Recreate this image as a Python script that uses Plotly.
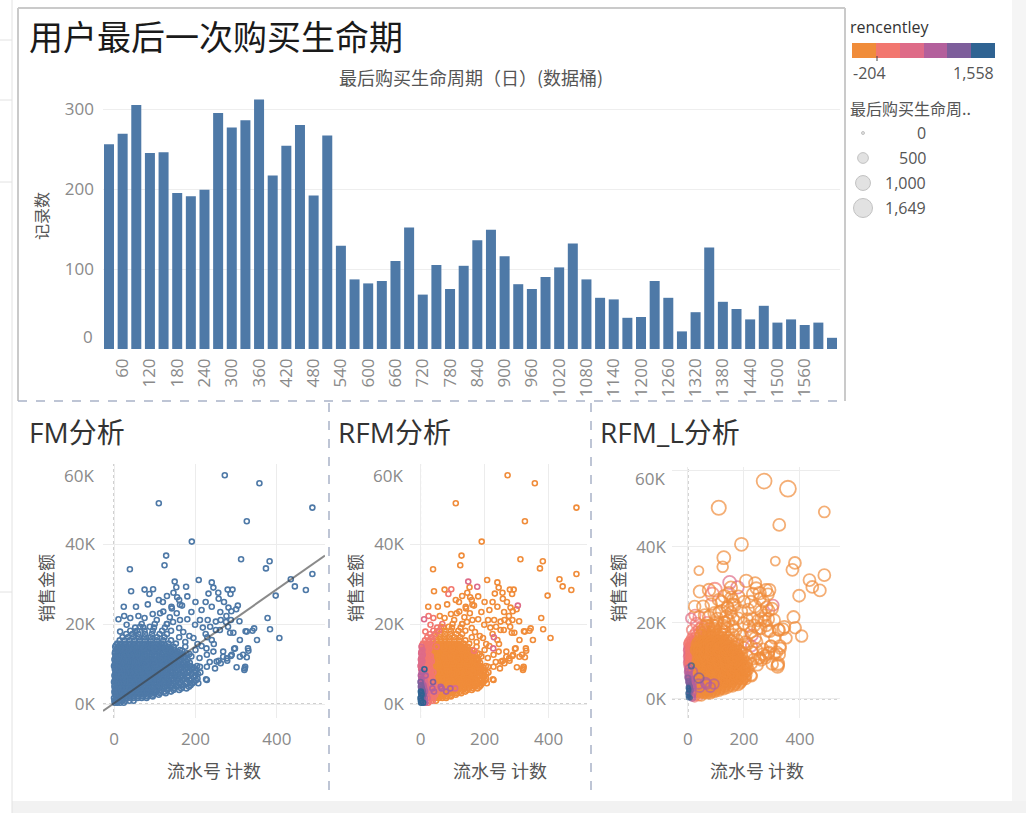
import plotly.graph_objects as go

# ---------------- bar chart data ----------------
bin_start = [30, 60, 90, 120, 150, 180, 210, 240, 270, 300, 330, 360, 390, 420, 450, 480, 510, 540,
             570, 600, 630, 660, 690, 720, 750, 780, 810, 840, 870, 900, 930, 960, 990, 1020, 1050, 1080,
             1110, 1140, 1170, 1200, 1230, 1260, 1290, 1320, 1350, 1380, 1410, 1440, 1470, 1500, 1530, 1560,
             1590, 1620]
bin_count = [256, 269, 305, 245, 246, 195, 191, 199, 295, 277, 286, 312, 217, 254, 280, 192, 267, 129,
             87, 82, 85, 110, 152, 68, 105, 75, 104, 136, 149, 116, 81, 75, 90, 102, 132, 87,
             64, 62, 39, 40, 85, 64, 22, 46, 127, 59, 50, 37, 54, 33, 37, 30, 33, 14]
bar_tick_vals = [60, 120, 180, 240, 300, 360, 420, 480, 540, 600, 660, 720, 780, 840, 900, 960, 1020,
                 1080, 1140, 1200, 1260, 1320, 1380, 1440, 1500, 1560]
bar_tick_text = ["60", "120", "180", "240", "300", "360", "420", "480", "540", "600", "660", "720", "780",
                 "840", "900", "960", "1020", "1080", "1140", "1200", "1260", "1320", "1380", "1440",
                 "1500", "1560"]
bar_y_ticks = [0, 100, 200, 300]
bar_y_text = ["", "100", "200", "300"]   # "0" is drawn nudged up inside the pane, as Tableau does

# ---------------- scatter data (count, sales, recency, lifetime) ----------------
out_cnt = [272, 357, 110, 487, 326, 191, 128, 312, 382, 124, 39, 373, 487, 434, 444, 471, 397]
out_amt = [57200, 55200, 50200, 49100, 45700, 40600, 37100, 36200, 35700, 34700, 33700, 33900, 32500,
           31200, 29400, 28500, 27100]
out_rec = [-40, -120, 20, -60, -10, 30, 10, -30, -80, 40, 60, -20, -90, -50, 0, -70, 10]
out_life = [1000, 1150, 900, 520, 630, 750, 750, 340, 630, 500, 340, 630, 630, 630, 630, 630, 630]

mid_cnt = [208, 240, 244, 232, 256, 257, 279, 291, 286, 304,
           281, 240, 149, 153, 177, 146, 155, 180, 160, 167,
           141, 75, 96, 87, 42, 83, 24, 54, 11, 308,
           377, 383, 406, 351, 340, 323, 330, 309, 287, 295,
           320, 322, 278, 268, 262, 257, 228, 226, 207, 187,
           250, 262, 275, 230, 261, 300, 288, 276, 31, 15,
           52, 64, 88, 113, 121, 142, 137, 162, 154, 180,
           199, 162, 211, 218, 236, 250, 260, 280, 285, 293,
           326, 344, 309, 287, 268, 244, 252, 228, 248, 211,
           228, 297, 317, 326, 289, 277, 301, 321, 329, 229,
           227, 50, 167]
mid_amt_k = [31.0, 30.4, 29.1, 27.6, 27.8, 26.3, 28.6, 28.6, 27.5, 24.6,
             24.1, 24.3, 30.6, 29.2, 29.3, 27.8, 26.7, 26.9, 26.0, 24.6,
             24.3, 28.6, 28.7, 27.5, 28.2, 24.9, 24.3, 24.3, 21.2, 20.7,
             21.5, 18.7, 16.5, 16.0, 18.3, 18.2, 13.3, 11.8, 12.0, 13.8,
             8.5, 9.3, 10.8, 11.8, 10.2, 10.8, 9.3, 6.2, 5.2, 5.2,
             18.5, 21.0, 20.5, 21.0, 23.0, 23.7, 23.2, 22.0, 19.8, 18.1,
             18.1, 19.3, 19.3, 22.7, 23.1, 23.9, 21.7, 24.8, 22.7, 21.2,
             19.8, 21.0, 21.0, 19.1, 19.3, 20.6, 18.5, 19.3, 17.8, 17.8,
             18.1, 18.9, 16.0, 21.0, 13.1, 13.1, 10.6, 12.3, 8.9, 9.3,
             6.0, 13.9, 12.3, 11.7, 12.3, 11.4, 9.2, 8.9, 13.9, 16.7,
             13.9, 14.3, 13.3]
mid_rec = [-10, 20, 0, 30, -20, 10, 0, -30, 20, 420,
           40, 10, 460, 30, 420, 20, 0, 50, 30, 60,
           10, 40, 300, 320, 60, 30, 50, 70, 480, 10,
           0, 20, 40, 10, 30, 0, 20, 30, 50, 10,
           40, 20, 60, 30, 10, 40, 70, 50, 80, 60,
           20, 0, 30, 10, 40, 20, 50, 10, 100, 350,
           60, 40, 20, 30, 10, 50, 20, 40, 60, 10,
           30, 20, 0, 40, 20, 10, 30, 0, 50, 20,
           10, 30, 40, 20, 30, 50, 20, 40, 60, 30,
           70, 20, 10, 40, 30, 20, 50, 60, 10, 400,
           420, 350, 250]
mid_life = [700, 650, 600, 650, 700, 600, 650, 650, 600, 550,
            600, 650, 750, 700, 700, 650, 600, 650, 600, 650,
            600, 700, 850, 800, 650, 600, 600, 650, 450, 600,
            650, 600, 600, 550, 600, 600, 550, 550, 600, 600,
            700, 650, 550, 600, 550, 550, 500, 500, 450, 500,
            600, 650, 600, 650, 600, 650, 600, 600, 600, 500,
            600, 650, 650, 700, 650, 650, 600, 650, 600, 600,
            650, 600, 600, 600, 650, 600, 600, 600, 550, 600,
            600, 650, 550, 600, 550, 600, 550, 600, 550, 500,
            500, 600, 550, 600, 550, 550, 600, 650, 600, 600,
            550, 500, 900]

ext_cnt = [170, 185, 195, 205, 215, 225, 240, 200, 185, 210,
           235, 245, 175, 160, 145, 130, 105, 95, 75, 60,
           40, 25, 120, 130, 110, 200, 215, 190, 225, 270]
ext_amt_k = [18, 17, 16.5, 15, 14.5, 17.5, 16, 13.5, 12.5, 11.5,
             10.5, 15, 15.5, 19, 20.5, 20, 21, 22.5, 21.5, 22,
             21.5, 22, 25.5, 27, 26, 25.5, 23.5, 23, 25.5, 25.5]
ext_rec = [30, 10, 40, 20, 30, 0, 50, 20, 40, 30,
           10, 40, 20, 0, 30, 10, 40, 20, 60, 80,
           90, 150, 20, 40, 30, 10, 30, 20, 40, 20]
ext_life = [600, 600, 600, 550, 550, 600, 600, 550, 550, 550,
            500, 600, 600, 650, 650, 650, 700, 700, 650, 650,
            600, 550, 650, 700, 650, 650, 600, 650, 650, 600]

# dense core, read row by row (sales level -> counts)
core_row_amt = [300, 800, 1500, 2300, 3100, 3900, 4700, 5500, 6300, 7100, 7900, 8700, 9500, 10300,
                11100, 11900, 12700, 13500, 14300, 15100, 15900, 16700, 17500, 18300, 19100, 20000,
                1900, 2700, 3500, 4300, 5100, 5900, 6700, 7500, 8300, 9100, 9900, 10700, 11500, 12300,
                13100, 13900, 14700]
core_row_cnt = [
    [2, 8, 15, 24],
    [1, 5, 12, 20, 28, 38, 48],
    [0, 6, 13, 22, 31, 40, 48, 58, 68, 80],
    [3, 9, 17, 26, 35, 45, 55, 64, 72, 84, 96, 110],
    [1, 7, 14, 23, 32, 42, 51, 61, 70, 80, 90, 100, 112, 125, 140],
    [4, 11, 19, 28, 37, 47, 57, 66, 76, 86, 93, 108, 120, 133, 148, 165, 178],
    [2, 9, 16, 25, 34, 44, 53, 63, 73, 83, 93, 104, 115, 127, 140, 154, 170, 188],
    [0, 6, 14, 22, 31, 39, 50, 60, 70, 80, 90, 101, 112, 124, 136, 150, 163, 178, 196],
    [3, 11, 19, 28, 37, 47, 57, 67, 77, 87, 98, 109, 120, 132, 145, 158, 172, 190, 205],
    [1, 8, 16, 25, 34, 44, 54, 64, 74, 84, 95, 106, 117, 129, 141, 154, 168, 183, 200],
    [4, 12, 21, 30, 40, 50, 60, 70, 81, 92, 103, 114, 126, 138, 151, 165, 180, 197, 212],
    [2, 12, 19, 27, 37, 47, 57, 67, 78, 89, 100, 111, 123, 135, 148, 162, 176, 192],
    [0, 6, 14, 23, 33, 43, 53, 64, 75, 86, 97, 108, 120, 132, 145, 158, 173, 188, 204],
    [3, 11, 20, 30, 40, 50, 61, 72, 83, 94, 105, 117, 129, 142, 155, 170, 186],
    [1, 8, 17, 26, 36, 46, 57, 68, 79, 90, 102, 114, 126, 139, 152, 166, 181],
    [4, 13, 22, 32, 42, 53, 64, 75, 87, 99, 111, 124, 137, 150, 165, 190],
    [2, 10, 19, 29, 39, 50, 61, 72, 84, 96, 109, 122, 135, 149, 163, 178],
    [6, 15, 25, 35, 46, 57, 68, 80, 93, 106, 119, 133, 147, 162],
    [3, 12, 22, 32, 43, 54, 66, 78, 91, 104, 118, 132, 147, 175],
    [8, 18, 29, 40, 52, 64, 77, 90, 104, 118, 134, 152],
    [14, 26, 38, 50, 63, 76, 90, 105, 121, 140],
    [21, 34, 47, 61, 75, 90, 106, 124, 160],
    [30, 45, 60, 76, 93, 112, 130],
    [40, 57, 75, 95, 118, 140],
    [52, 72, 98, 125],
    [68, 100, 130],
    [4, 11, 19, 28, 38, 48, 58, 70, 82, 95],
    [2, 8, 15, 24, 33, 43, 53, 63, 74, 86, 99, 113, 127],
    [5, 12, 20, 29, 39, 49, 59, 69, 80, 91, 103, 116, 131, 146, 160],
    [1, 8, 15, 24, 33, 43, 53, 63, 74, 85, 97, 110, 123, 137, 152, 168, 184],
    [5, 12, 20, 29, 39, 49, 58, 68, 78, 88, 99, 110, 122, 134, 147, 160, 175, 192],
    [2, 9, 17, 26, 35, 45, 55, 65, 75, 85, 96, 107, 118, 130, 142, 155, 168, 185, 201],
    [6, 14, 22, 31, 40, 50, 60, 71, 81, 92, 103, 114, 126, 138, 151, 165, 180, 197],
    [3, 11, 19, 28, 38, 48, 58, 68, 78, 88, 99, 110, 122, 134, 147, 160, 175, 190, 206],
    [7, 15, 24, 33, 43, 53, 63, 73, 84, 95, 106, 117, 129, 142, 155, 169, 184, 200],
    [4, 11, 20, 30, 40, 50, 60, 70, 81, 92, 103, 114, 126, 139, 152, 166, 181, 196],
    [2, 9, 17, 26, 36, 46, 57, 68, 79, 90, 101, 113, 125, 138, 151, 165, 180],
    [6, 15, 25, 35, 45, 55, 66, 77, 88, 99, 111, 123, 136, 149, 162, 177],
    [3, 12, 21, 31, 41, 51, 62, 73, 84, 96, 108, 120, 133, 146, 159, 174],
    [7, 16, 26, 36, 46, 57, 68, 79, 91, 103, 116, 129, 142, 156, 170],
    [3, 11, 20, 30, 41, 52, 63, 74, 86, 99, 112, 126, 140, 155],
    [8, 18, 28, 39, 50, 61, 73, 85, 98, 111, 125, 140],
    [5, 15, 26, 37, 48, 59, 71, 84, 97, 111, 126],
]
core_row_rec = [
    [1400, 1300, 900, 300],
    [1500, 1100, 700, 350, 200, 120, 60],
    [1350, 1200, 800, 500, 250, 150, 80, 40, 20, 0],
    [1450, 1000, 600, 300, 180, 100, 60, 30, 0, -20, 10, -40],
    [1300, 1100, 850, 400, 200, 750, 120, 60, 20, 800, 0, 30, -30, 10, -60],
    [1250, 950, 500, 280, 900, 150, 90, 850, 40, 20, 750, 600, -10, 30, -50, 0, -80],
    [1100, 700, 450, 250, 160, 100, 60, 30, 10, -10, 20, 0, -30, 10, -60, -20, -90, -40],
    [1000, 600, 420, 260, 150, 1150, 70, 40, 10, 0, -20, 10, -30, 0, -50, -10, -70, -40, -100],
    [900, 500, 300, 200, 120, 80, 50, 20, 0, -10, 10, -30, 0, -50, -20, -60, -80, -40, -110],
    [800, 450, 750, 180, 110, 70, 40, 10, -10, 0, -20, 10, -40, -10, -60, -30, -80, -50, -100],
    [700, 400, 260, 150, 90, 60, 30, 0, -20, 10, -30, 0, -50, -20, -70, -40, -90, -60, -120],
    [500, 1300, 240, 140, 80, 50, 20, 0, -20, 10, -40, -10, -60, -30, -80, -50, -100, -70],
    [600, 350, 220, 130, 80, 40, 10, -10, 0, -30, -10, -50, -20, -70, -40, -90, -60, -110, -80],
    [550, 320, 200, 120, 70, 30, 0, -20, 10, -40, -10, -60, -30, -80, -50, -100, -70],
    [500, 300, 180, 100, 60, 20, -10, 0, -30, -10, -50, -20, -70, -40, -90, -60, -110],
    [450, 280, 160, 90, 50, 10, -20, 0, -40, -10, -60, -30, -80, -50, -100, -70],
    [420, 260, 150, 80, 40, 0, -30, -10, -50, -20, -70, -40, -90, -60, -110, -80],
    [500, 240, 140, 70, 30, -10, -30, -20, -60, -30, -80, -50, -100, -70],
    [550, 220, 130, 60, 20, -20, 0, -40, -10, -60, -30, -80, -50, -90],
    [300, 200, 110, 50, 10, -30, -10, -50, -20, -70, -40, -90],
    [280, 180, 100, 40, 0, -20, -40, -10, -60, -30],
    [250, 150, 80, 30, -10, -30, -50, -20, -70],
    [200, 120, 60, 20, -20, -40, -60],
    [180, 100, 40, 0, -30, -50],
    [150, 60, 10, -30],
    [120, 30, -20],
    [1200, 650, 320, 160, 90, 40, 10, -20, 0, -40],
    [1350, 900, 420, 220, 120, 70, 30, 0, -20, 10, -40, -10, -60],
    [1150, 700, 350, 180, 100, 60, 20, 0, -30, 10, -20, -50, 0, -70, -30],
    [1200, 800, 380, 220, 130, 70, 30, 880, 0, -20, 10, -40, -10, -60, -30, -80, -50],
    [950, 550, 300, 170, 100, 50, 20, 0, -30, 10, -20, -50, 0, -60, -30, -80, -40, -90],
    [850, 480, 290, 160, 90, 50, 20, -10, 0, -30, 10, -40, -10, -60, -20, -70, -40, -90, -60],
    [520, 320, 190, 110, 60, 30, 0, -20, 10, -30, 0, -50, -20, -70, -40, -80, -60, -100],
    [600, 380, 230, 130, 80, 40, 10, -10, 0, -30, 10, -40, -10, -60, -30, -80, -50, -90, -70],
    [450, 270, 160, 100, 60, 20, 0, -20, 10, -30, 0, -50, -20, -70, -40, -90, -60, -100],
    [520, 330, 200, 120, 70, 30, 0, -20, 10, -40, -10, -60, -30, -80, -50, -90, -70, -110],
    [560, 340, 210, 120, 70, 30, 0, -20, 10, -40, -10, -60, -30, -80, -50, -100, -70],
    [480, 290, 170, 100, 50, 10, -20, 0, -40, -10, -60, -30, -80, -50, -100, -70],
    [520, 300, 170, 90, 40, 10, -20, 0, -40, -10, -60, -30, -80, -50, -100, -70],
    [430, 250, 140, 70, 30, -10, -30, -10, -50, -20, -70, -40, -90, -60, -100],
    [480, 260, 140, 70, 30, -10, -30, -20, -60, -30, -80, -50, -100, -70],
    [330, 200, 110, 50, 10, -20, 0, -40, -10, -60, -30, -80],
    [300, 180, 100, 40, 0, -30, -10, -50, -20, -70, -40],
]
core_row_life = [
    [20, 30, 150, 250],
    [15, 40, 200, 250, 300, 350, 400],
    [25, 50, 300, 250, 300, 350, 400, 450, 500, 500],
    [20, 80, 250, 300, 350, 400, 450, 450, 500, 550, 550, 600],
    [20, 60, 300, 300, 350, 400, 450, 500, 500, 400, 550, 550, 600, 600, 650],
    [30, 150, 300, 300, 400, 450, 500, 400, 500, 550, 400, 450, 600, 600, 650, 650, 700],
    [60, 250, 300, 350, 400, 450, 500, 500, 550, 550, 600, 600, 650, 650, 650, 700, 700, 700],
    [80, 250, 300, 350, 400, 400, 500, 500, 550, 550, 600, 600, 650, 650, 650, 700, 700, 700, 700],
    [150, 300, 350, 400, 450, 500, 500, 550, 550, 600, 600, 650, 650, 650, 700, 700, 700, 700, 700],
    [200, 300, 400, 400, 450, 500, 500, 550, 600, 600, 600, 650, 650, 650, 700, 700, 700, 750, 700],
    [250, 350, 400, 450, 500, 500, 550, 550, 600, 600, 650, 650, 650, 700, 700, 700, 750, 750, 700],
    [300, 100, 400, 450, 500, 550, 550, 600, 600, 650, 650, 650, 700, 700, 700, 750, 750, 750],
    [300, 350, 400, 450, 500, 550, 550, 600, 600, 650, 650, 650, 700, 700, 700, 750, 750, 750, 700],
    [300, 400, 450, 500, 500, 550, 600, 600, 650, 650, 650, 700, 700, 700, 750, 750, 750],
    [350, 400, 450, 500, 550, 550, 600, 600, 650, 650, 700, 700, 700, 750, 750, 750, 750],
    [350, 400, 450, 500, 550, 600, 600, 650, 650, 700, 700, 700, 750, 750, 750, 700],
    [400, 450, 500, 500, 550, 600, 600, 650, 650, 700, 700, 750, 750, 750, 750, 750],
    [400, 450, 500, 550, 600, 600, 650, 650, 700, 700, 750, 750, 750, 750],
    [400, 450, 500, 550, 600, 650, 650, 700, 700, 700, 750, 750, 750, 700],
    [450, 500, 550, 600, 600, 650, 700, 700, 750, 750, 750, 750],
    [450, 550, 600, 600, 650, 700, 700, 750, 750, 750],
    [500, 550, 600, 650, 700, 700, 750, 750, 750],
    [550, 600, 650, 700, 700, 750, 750],
    [550, 600, 650, 700, 750, 750],
    [600, 650, 700, 750],
    [600, 700, 700],
    [40, 250, 280, 320, 380, 420, 450, 480, 500, 520],
    [30, 120, 280, 320, 360, 420, 460, 480, 520, 540, 560, 600, 620],
    [60, 260, 300, 350, 400, 450, 480, 500, 540, 560, 580, 600, 620, 640, 660],
    [40, 220, 300, 350, 400, 450, 480, 400, 520, 550, 580, 600, 620, 640, 660, 680, 700],
    [120, 280, 320, 380, 420, 470, 500, 520, 550, 580, 600, 620, 640, 660, 680, 700, 700, 700],
    [180, 300, 350, 400, 450, 500, 500, 550, 550, 600, 600, 650, 650, 650, 700, 700, 700, 700, 700],
    [280, 350, 400, 450, 500, 500, 550, 550, 600, 600, 650, 650, 650, 700, 700, 700, 750, 700],
    [250, 350, 400, 450, 500, 500, 550, 550, 600, 600, 650, 650, 650, 700, 700, 700, 750, 750, 700],
    [320, 400, 450, 480, 500, 550, 550, 600, 600, 650, 650, 650, 700, 700, 700, 750, 750, 750],
    [300, 380, 430, 480, 500, 550, 550, 600, 600, 650, 650, 650, 700, 700, 700, 750, 750, 750],
    [300, 380, 430, 480, 520, 550, 580, 600, 630, 650, 660, 680, 700, 720, 740, 750, 750],
    [330, 420, 460, 500, 530, 560, 600, 620, 650, 670, 690, 700, 720, 740, 750, 750],
    [350, 420, 470, 510, 550, 580, 610, 640, 660, 680, 700, 720, 740, 750, 750, 750],
    [380, 450, 500, 540, 580, 600, 630, 650, 680, 700, 720, 740, 750, 750, 750],
    [400, 450, 500, 550, 600, 620, 650, 670, 700, 720, 740, 750, 750, 750],
    [420, 480, 530, 570, 600, 640, 660, 690, 710, 730, 750, 750],
    [440, 500, 550, 590, 620, 660, 690, 710, 730, 750, 750],
]

trend_cnt = [-27, 518]
trend_amt = [-1755, 37100]

rec_min, rec_max = -204, 1558
size_legend_vals = [0, 500, 1000, 1649]
size_legend_text = ["0", "500", "1,000", "1,649"]
life_max = 1649
palette = ["#f08c3a", "#f2776f", "#de6b88", "#b3609c", "#7d5e9b", "#2f6392"]
sc_y_ticks = [0, 20000, 40000, 60000]
sc_y_text = ["0K", "20K", "40K", ""]      # top label drawn nudged inside the pane
sc_x_ticks = [0, 200, 400]

# ---------------- assemble scatter points ----------------
pts = []
for c, a, r, l in zip(out_cnt, out_amt, out_rec, out_life):
    pts.append((c, a, r, l))
for c, a, r, l in zip(mid_cnt, mid_amt_k, mid_rec, mid_life):
    pts.append((c, a * 1000, r, l))
for c, a, r, l in zip(ext_cnt, ext_amt_k, ext_rec, ext_life):
    pts.append((c, a * 1000, r, l))
for amt, cs, rs, ls in zip(core_row_amt, core_row_cnt, core_row_rec, core_row_life):
    for c, r, l in zip(cs, rs, ls):
        pts.append((c, amt, r, l))

# RFM: recency ascending (older customers on top)
pts_a = sorted(pts, key=lambda p: p[2])
# RFM_L: salmon/pink first, orange over them, purple/blue on top
pts_l = sorted(pts, key=lambda p: (p[2] >= 677, p[2] if p[2] >= 677 else -p[2]))


def size_px(v):
    return (9 + (19 ** 2 - 9) * v / life_max) ** 0.5


stepped = []
n = len(palette)
for i, c in enumerate(palette):
    stepped.append([i / n, c])
    stepped.append([(i + 1) / n, c])

# ---------------- layout helpers ----------------
W, H = 1026, 813


def px(x):
    return x / W


def py(y):
    return 1 - y / H


TICK = dict(family="Open Sans, Noto Sans CJK SC", size=17, color="#8a8a8a")
CJK = "Noto Sans CJK SC"
MIX = "Open Sans, Noto Sans CJK SC"

fig = go.Figure()

fig.add_trace(go.Bar(x=bin_start, y=bin_count, width=22, marker=dict(color="#4e79a7", line=dict(width=0)),
                     xaxis="x", yaxis="y"))

fig.add_trace(go.Scatter(x=[p[0] for p in pts_a], y=[p[1] for p in pts_a], mode="markers",
                         xaxis="x2", yaxis="y2",
                         marker=dict(symbol="circle-open", size=5, color="#4e79a7", line=dict(width=1.6))))
fig.add_trace(go.Scatter(x=trend_cnt, y=trend_amt, mode="lines", xaxis="x2", yaxis="y2",
                         line=dict(color="rgba(60,60,60,0.6)", width=2)))

fig.add_trace(go.Scatter(x=[p[0] for p in pts_a], y=[p[1] for p in pts_a], mode="markers",
                         xaxis="x3", yaxis="y3",
                         marker=dict(symbol="circle-open", size=5, color=[p[2] for p in pts_a],
                                     colorscale=stepped, cmin=rec_min, cmax=rec_max, showscale=False,
                                     line=dict(width=1.6))))

fig.add_trace(go.Scatter(x=[p[0] for p in pts_l], y=[p[1] for p in pts_l], mode="markers",
                         xaxis="x4", yaxis="y4",
                         marker=dict(symbol="circle-open", size=[size_px(p[3]) for p in pts_l],
                                     color=[p[2] for p in pts_l], colorscale=stepped, cmin=rec_min,
                                     cmax=rec_max, showscale=False, line=dict(width=1.8))))

# size legend
fig.add_trace(go.Scatter(x=[0.5] * len(size_legend_vals), y=list(range(len(size_legend_vals))),
                         mode="markers", xaxis="x5", yaxis="y5",
                         marker=dict(symbol="circle", size=[size_px(v) for v in size_legend_vals],
                                     color="#d6d6d6", line=dict(color="#a9a9a9", width=1))))
# colour legend
fig.add_trace(go.Heatmap(z=[list(range(n))], x=list(range(n)), y=[0], xaxis="x6", yaxis="y6",
                         colorscale=stepped, zmin=-0.5, zmax=n - 0.5, showscale=False))

common_sc_x = dict(showgrid=True, gridcolor="#ececec", zeroline=False, tickfont=TICK,
                   tickvals=sc_x_ticks, ticks="", ticklabelstandoff=9, showline=False)
sc_yticks = dict(tickvals=sc_y_ticks, ticktext=sc_y_text, tickfont=TICK, showgrid=True,
                 gridcolor="#ececec", zeroline=False, ticks="")

fig.update_layout(
    width=W, height=H, margin=dict(l=0, r=0, t=0, b=0, autoexpand=False),
    paper_bgcolor="white", plot_bgcolor="rgba(0,0,0,0)", showlegend=False,
    xaxis=dict(domain=[px(103), px(840)], range=[16.8, 1637.6], tickvals=bar_tick_vals,
               ticktext=bar_tick_text, tickangle=-90, tickfont=TICK, showgrid=False, zeroline=False,
               ticks="", ticklabelstandoff=5),
    yaxis=dict(domain=[py(349), py(90)], range=[0, 323.75], tickvals=bar_y_ticks, ticktext=bar_y_text,
               tickfont=TICK, showgrid=True, gridcolor="#eeeeee", zeroline=False, ticks="",
               ticklabelstandoff=8),
    xaxis2=dict(domain=[px(103), px(325)], range=[-27, 518], anchor="y2", **common_sc_x),
    yaxis2=dict(domain=[py(718), py(464)], range=[-3500, 60000], anchor="x2", ticklabelstandoff=7,
                **sc_yticks),
    xaxis3=dict(domain=[px(410), px(587)], range=[-33, 520], anchor="y3", **common_sc_x),
    yaxis3=dict(domain=[py(718), py(464)], range=[-3500, 60000], anchor="x3", ticklabelstandoff=5,
                **sc_yticks),
    xaxis4=dict(domain=[px(672), px(840)], range=[-57, 543], anchor="y4", **common_sc_x),
    yaxis4=dict(domain=[py(718), py(467)], range=[-5000, 60900], anchor="x4", ticklabelstandoff=5,
                **sc_yticks),
    xaxis5=dict(domain=[px(848), px(878)], range=[0, 1], anchor="y5", visible=False),
    yaxis5=dict(domain=[py(220.5), py(120.5)], range=[3.5, -0.5], anchor="x5", visible=False),
    xaxis6=dict(domain=[px(852), px(995)], range=[-0.5, n - 0.5], anchor="y6", visible=False),
    yaxis6=dict(domain=[py(58), py(43)], range=[-0.5, 0.5], anchor="x6", visible=False),
)

shapes = []


def pline(x0, y0, x1, y1, color, width=1, dash=None, layer="below"):
    shapes.append(dict(type="line", xref="paper", yref="paper", x0=px(x0), y0=py(y0), x1=px(x1),
                       y1=py(y1), line=dict(color=color, width=width, dash=dash), layer=layer))


def prect(x0, y0, x1, y1, fill):
    shapes.append(dict(type="rect", xref="paper", yref="paper", x0=px(x0), y0=py(y0), x1=px(x1),
                       y1=py(y1), fillcolor=fill, line=dict(width=0), layer="below"))


prect(1012, 0, 1026, 813, "#f5f5f5")
prect(12, 801, 1026, 813, "#f2f2f2")
pline(12, 0, 12, 813, "#e2e2e2", 1)
for yy in (40, 100, 182, 592):
    pline(0, yy, 12, yy, "#e2e2e2", 1)
# top dashboard frame
pline(18, 8, 845, 8, "#cacaca", 2)
pline(18, 8, 18, 401, "#cacaca", 2)
pline(845, 8, 845, 401, "#cacaca", 2)
pline(18, 401, 845, 401, "#a9b3c8", 1.5, "dash")
pline(329, 403, 329, 793, "#a9b3c8", 1.5, "dash")
pline(591, 403, 591, 793, "#a9b3c8", 1.5, "dash")
# colour legend tick
pline(877, 56, 877, 61, "#444444", 1, None, "above")

# dotted zero reference lines
for xa, ya in (("x2", "y2"), ("x3", "y3"), ("x4", "y4")):
    shapes.append(dict(type="line", xref=xa, yref=ya + " domain", x0=0, x1=0, y0=0, y1=1,
                       line=dict(color="#a0a0a0", width=1, dash="dot"), layer="below"))
    shapes.append(dict(type="line", xref=xa + " domain", yref=ya, x0=0, x1=1, y0=0, y1=0,
                       line=dict(color="#a0a0a0", width=1, dash="dot"), layer="below"))

fig.update_layout(shapes=shapes)

ann = []


def text(x, y, s, size, color, xanchor="left", angle=0, family=CJK):
    ann.append(dict(x=px(x), y=py(y), xref="paper", yref="paper", text=s, showarrow=False,
                    xanchor=xanchor, yanchor="middle", textangle=angle,
                    font=dict(family=family, size=size, color=color)))


text(27, 36, "用户最后一次购买生命期", 34, "#1a1a1a")
text(471, 77, "最后购买生命周期（日）(数据桶)", 18, "#555555", "center")
text(41, 216, "记录数", 16, "#555555", "center", -90)
text(27, 432, "FM分析", 28, "#333333", family=MIX)
text(336, 432, "RFM分析", 28, "#333333", family=MIX)
text(598, 432, "RFM_L分析", 28, "#333333", family=MIX)
for xx in (45, 354, 617):
    text(xx, 588, "销售金额", 17, "#555555", "center", -90)
for xx in (214, 500, 757):
    text(xx, 770, "流水号 计数", 18, "#555555", "center")

# nudged-in edge tick labels (Tableau keeps them inside the pane)
text(95, 337, "0", 17, "#8a8a8a", "right", family=MIX)
text(96, 476, "60K", 17, "#8a8a8a", "right", family=MIX)
text(405, 476, "60K", 17, "#8a8a8a", "right", family=MIX)
text(667, 478, "60K", 17, "#8a8a8a", "right", family=MIX)

text(848, 27, "rencentley", 16, "#333333", family=MIX)
text(851, 73, "-204", 16, "#555555", family="Open Sans")
text(996, 73, "1,558", 16, "#555555", "right", family="Open Sans")
text(848, 108, "最后购买生命周..", 16, "#555555")
for i, s in enumerate(size_legend_text):
    text(928, 133 + 25 * i, s, 16, "#555555", "right", family="Open Sans")

fig.update_layout(annotations=ann)

fig.write_html("out.html", config={"displayModeBar": False},
               post_script="document.body.style.margin='0px';document.body.style.overflow='hidden';")
